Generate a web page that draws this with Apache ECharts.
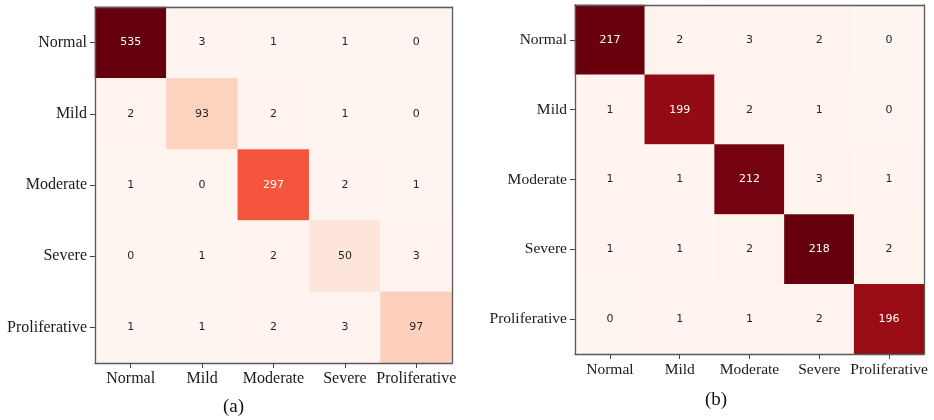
<!DOCTYPE html>
<html>
<head>
<meta charset="utf-8">
<script src="https://cdn.jsdelivr.net/npm/echarts@6/dist/echarts.min.js"></script>
<style>
  html, body { margin: 0; padding: 0; background: #fff; }
  #chart { width: 934px; height: 420px; }
</style>
</head>
<body>
<div id="chart"></div>
<script>
// Class names shared by both confusion matrices
const classes = ['Normal', 'Mild', 'Moderate', 'Severe', 'Proliferative'];

// Rows = true class, columns = predicted class
const matrixA = [
  [535, 3, 1, 1, 0],
  [2, 93, 2, 1, 0],
  [1, 0, 297, 2, 1],
  [0, 1, 2, 50, 3],
  [1, 1, 2, 3, 97]
];
const matrixB = [
  [217, 2, 3, 2, 0],
  [1, 199, 2, 1, 0],
  [1, 1, 212, 3, 1],
  [1, 1, 2, 218, 2],
  [0, 1, 1, 2, 196]
];
const captions = ['(a)', '(b)'];

// Matplotlib "Reds" colour ramp
const reds = ['#fff5f0', '#fee0d2', '#fcbba1', '#fc9272', '#fb6a4a', '#ef3b2c', '#cb181d', '#a50f15', '#67000d'];

function cells(m) {
  let max = 0, min = Infinity;
  m.forEach(r => r.forEach(v => { max = Math.max(max, v); min = Math.min(min, v); }));
  const thr = (max + min) / 2;
  const out = [];
  m.forEach((row, i) => row.forEach((v, j) => {
    out.push({ value: [j, i, v], label: { color: v > thr ? '#ffffff' : '#262626' } });
  }));
  return { data: out, max: max };
}

const A = cells(matrixA);
const B = cells(matrixB);

const serif = '"Liberation Serif", "DejaVu Serif", serif';
const frame = '#5a5a5a';

function axisPair(gridIndex, size) {
  const base = {
    type: 'category', data: classes, gridIndex: gridIndex, z: 10,
    axisLine: { show: true, lineStyle: { color: frame, width: 1.3 } },
    splitLine: { show: false }
  };
  const lbl = { color: '#1a1a1a', fontFamily: serif, fontSize: size, margin: 8, interval: 0, hideOverlap: false };
  return {
    x: [
      Object.assign({}, base, {
        position: 'bottom',
        axisTick: { show: true, alignWithLabel: true, interval: 0, length: 5, lineStyle: { color: '#444' } },
        axisLabel: lbl
      }),
      Object.assign({}, base, {
        position: 'top', axisTick: { show: false }, axisLabel: { show: false }
      })
    ],
    y: [
      Object.assign({}, base, {
        position: 'left', inverse: true,
        axisTick: { show: true, alignWithLabel: true, interval: 0, length: 5, lineStyle: { color: '#444' } },
        axisLabel: lbl
      }),
      Object.assign({}, base, {
        position: 'right', inverse: true, axisTick: { show: false }, axisLabel: { show: false }
      })
    ]
  };
}

const axA = axisPair(0, 16);
const axB = axisPair(1, 15.5);

const labelStyle = { show: true, fontFamily: '"DejaVu Sans", sans-serif', fontSize: 11 };

const option = {
  backgroundColor: '#ffffff',
  animation: false,
  title: [
    { text: captions[0], left: 218, top: 393, textStyle: { fontFamily: serif, fontSize: 19, fontWeight: 'normal', color: '#111' } },
    { text: captions[1], left: 700, top: 386, textStyle: { fontFamily: serif, fontSize: 19, fontWeight: 'normal', color: '#111' } }
  ],
  grid: [
    { left: 95, top: 7, width: 357, height: 356 },
    { left: 575, top: 5, width: 349, height: 349 }
  ],
  xAxis: axA.x.concat(axB.x),
  yAxis: axA.y.concat(axB.y),
  visualMap: [
    { show: false, seriesIndex: 0, min: 0, max: A.max, dimension: 2, inRange: { color: reds } },
    { show: false, seriesIndex: 1, min: 0, max: B.max, dimension: 2, inRange: { color: reds } }
  ],
  series: [
    { type: 'heatmap', xAxisIndex: 0, yAxisIndex: 0, data: A.data, label: labelStyle, emphasis: { disabled: true } },
    { type: 'heatmap', xAxisIndex: 2, yAxisIndex: 2, data: B.data, label: labelStyle, emphasis: { disabled: true } }
  ]
};

const chart = echarts.init(document.getElementById('chart'), null, { renderer: 'canvas' });
chart.setOption(option);
</script>
</body>
</html>
